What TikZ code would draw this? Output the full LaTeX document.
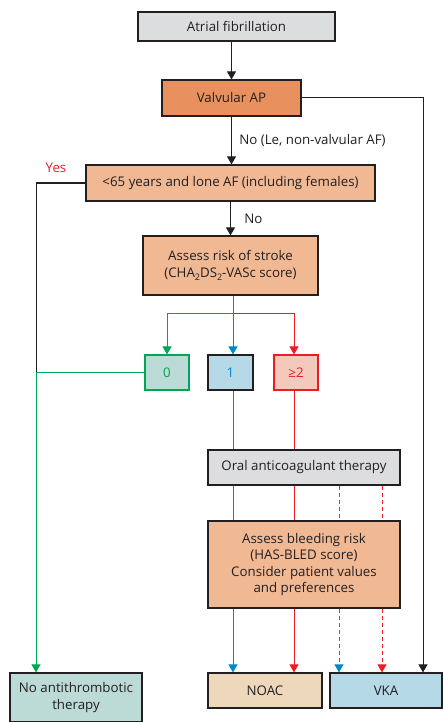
\documentclass[tikz,border=0pt]{standalone}
\usepackage{fontspec}
\setmainfont{Open Sans}
\usetikzlibrary{arrows.meta}
\definecolor{boxgray}{RGB}{220,221,223}
\definecolor{darkpeach}{RGB}{232,145,94}
\definecolor{peach}{RGB}{241,184,148}
\definecolor{mintfill}{RGB}{188,218,214}
\definecolor{skyfill}{RGB}{181,217,231}
\definecolor{rosefill}{RGB}{242,201,188}
\definecolor{sandfill}{RGB}{238,216,188}
\definecolor{flowgreen}{RGB}{0,166,81}
\definecolor{flowblue}{RGB}{0,138,200}
\definecolor{flowred}{RGB}{237,28,36}
\definecolor{ink}{RGB}{35,31,32}
\newcommand{\lowtwo}{\raisebox{-0.45ex}{\fontsize{9}{9}\selectfont 2}}
\tikzset{
  flowbox/.style={draw=ink, line width=1.2pt, align=center, inner sep=1pt, text=ink},
  flowline/.style={line width=1pt},
  tip/.style={-{Triangle[width=9pt,length=8pt]}}
}
\begin{document}
\begin{tikzpicture}[x=1pt, y=-1pt, font=\fontsize{13.3}{16.5}\selectfont]
  \useasboundingbox (0,0) rectangle (442,722);
  % boxes
  \node[flowbox, fill=boxgray, minimum width=197pt, minimum height=29pt] (af) at (236.5,26.5) {Atrial fibrillation};
  \node[flowbox, fill=darkpeach, minimum width=139pt, minimum height=36pt] (valv) at (231.5,98) {Valvular AP};
  \node[flowbox, fill=peach, minimum width=289pt, minimum height=36pt] (lone) at (230.5,183) {<65 years and lone AF (including females)};
  \node[flowbox, fill=peach, minimum width=175pt, minimum height=59pt] (stroke) at (230.5,265.5) {Assess risk of stroke\\(CHA\lowtwo DS\lowtwo-VASc score)};
  \node[flowbox, draw=flowgreen, fill=mintfill, text=flowgreen, minimum width=44pt, minimum height=35pt] (zero) at (167,372.5) {0};
  \node[flowbox, fill=skyfill, text=flowblue, minimum width=45pt, minimum height=35pt] (one) at (230.5,372.5) {1};
  \node[flowbox, draw=flowred, fill=rosefill, text=flowred, minimum width=44pt, minimum height=35pt] (two) at (296,372.5) {≥2};
  \node[flowbox, fill=boxgray, minimum width=192pt, minimum height=35pt] (oral) at (304,467.5) {Oral anticoagulant therapy};
  \node[flowbox, fill=peach, minimum width=192pt, minimum height=87pt] (bleed) at (304,564.5) {Assess bleeding risk\\(HAS-BLED score)\\Consider patient values\\and preferences};
  \node[flowbox, fill=mintfill, minimum width=132pt, minimum height=49pt] (none) at (76,697.5) {No antithrombotic\\therapy};
  \node[flowbox, fill=sandfill, minimum width=114pt, minimum height=35pt] (noac) at (265,690.5) {NOAC};
  \node[flowbox, fill=skyfill, minimum width=112pt, minimum height=35pt] (vka) at (386,690.5) {VKA};

  % branch points
  \coordinate (split) at (233,313);
  \coordinate (yesturn) at (36,183);
  \coordinate (zeroturn) at (36,372.5);
  \coordinate (vkaturn) at (423,98);

  % black flow
  \draw[flowline, ink, tip] (af.south -| valv.north) -- (valv.north);
  \draw[flowline, ink, tip] (valv) -- (lone.north -| valv)
    node[midway, right=4pt, text=ink] {No (Le, non-valvular AF)};
  \draw[flowline, ink, tip] (lone) -- (stroke.north -| lone)
    node[midway, right=10pt, text=ink] {No};
  \draw[flowline, ink, tip] (valv.east) -- (vkaturn) -- (vka.north -| vkaturn);
  \draw[flowline, ink] (lone.west) -- (yesturn) -- (zeroturn);
  \node[text=flowred, anchor=south] (yes) at (56,176) {Yes};

  % score branches
  \draw[flowline, flowgreen, tip] (split) -| (zero.north);
  \draw[flowline, flowred, tip] (split) -| (two.north -| 294,0);
  \draw[flowline, flowblue, tip] (stroke.south -| split) -- (one.north -| split);
  \draw[flowline, flowgreen, tip] (zero.west) -- (zeroturn) -- (none.north -| zeroturn);

  % through oral therapy and bleeding risk
  \foreach \xx/\col in {233/flowblue, 294/flowred}{
    \draw[flowline, \col] (one.south -| \xx,0) -- (oral.north -| \xx,0);
    \draw[flowline, \col] (oral.south -| \xx,0) -- (bleed.north -| \xx,0);
    \draw[flowline, \col, tip] (bleed.south -| \xx,0) -- (noac.north -| \xx,0);
  }
  \foreach \xx/\col in {339/flowblue, 382/flowred}{
    \draw[flowline, \col, dash pattern=on 4pt off 3pt] (oral.south -| \xx,0) -- (bleed.north -| \xx,0);
    \draw[flowline, \col, dash pattern=on 4pt off 3pt, tip] (bleed.south -| \xx,0) -- (vka.north -| \xx,0);
  }
\end{tikzpicture}
\end{document}
